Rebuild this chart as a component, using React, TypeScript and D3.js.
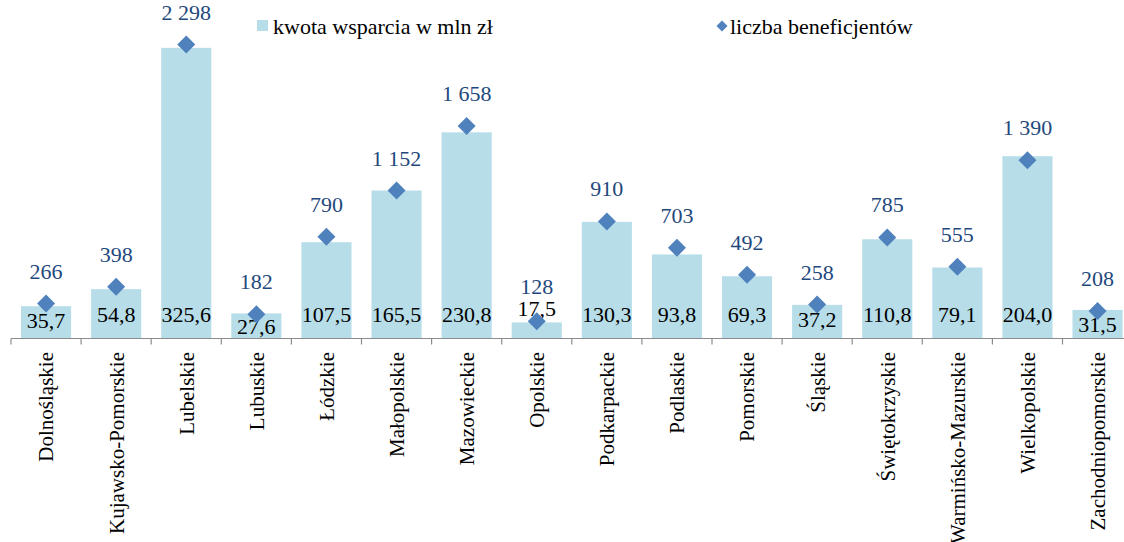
import { useEffect, useRef } from 'react'
import * as d3 from 'd3'

const regions = [
  'Dolnośląskie', 'Kujawsko-Pomorskie', 'Lubelskie', 'Lubuskie', 'Łódzkie',
  'Małopolskie', 'Mazowieckie', 'Opolskie', 'Podkarpackie', 'Podlaskie',
  'Pomorskie', 'Śląskie', 'Świętokrzyskie', 'Warmińsko-Mazurskie',
  'Wielkopolskie', 'Zachodniopomorskie',
]
const amounts = [35.7, 54.8, 325.6, 27.6, 107.5, 165.5, 230.8, 17.5, 130.3, 93.8, 69.3, 37.2, 110.8, 79.1, 204.0, 31.5]
const beneficiaries = [266, 398, 2298, 182, 790, 1152, 1658, 128, 910, 703, 492, 258, 785, 555, 1390, 208]
const legendLabels = ['kwota wsparcia w mln zł', 'liczba beneficjentów']

const W = 1124
const H = 542
const BAR = '#b7dde8'
const DIAMOND = '#4f81bd'
const FONT = '"Liberation Serif", "Times New Roman", serif'

const pl = d3.formatLocale({ decimal: ',', thousands: ' ', grouping: [3], currency: ['', ''] })
const fmtAmount = pl.format(',.1f')
const fmtCount = pl.format(',d')

export default function App() {
  const svgRef = useRef<SVGSVGElement>(null)

  useEffect(() => {
    const el = svgRef.current
    if (!el) return
    const svg = d3.select(el)
    svg.selectAll('*').remove()

    const step = 70.1
    const x = d3.scaleBand<string>()
      .domain(regions)
      .range([11, 11 + step * regions.length])
      .paddingInner(0.285)
      .paddingOuter(0.1425)

    const yBar = d3.scaleLinear().domain([0, 350]).range([338, 26.1])
    const yDia = d3.scaleLinear().domain([0, 2500]).range([337.5, 18.75])
    const axisY = 338.5

    const rows = regions.map((r, i) => ({ r, a: amounts[i], b: beneficiaries[i] }))

    // bars
    svg.append('g').selectAll('rect')
      .data(rows)
      .join('rect')
      .attr('x', (d) => x(d.r)!)
      .attr('width', x.bandwidth())
      .attr('y', (d) => yBar(d.a))
      .attr('height', (d) => axisY - yBar(d.a))
      .attr('fill', BAR)

    // axis line + ticks
    const ax = svg.append('g')
    ax.append('line')
      .attr('x1', 11).attr('x2', 11 + step * regions.length)
      .attr('y1', axisY).attr('y2', axisY)
      .attr('stroke', '#8c8c8c').attr('stroke-width', 1.2)
    ax.selectAll('line.tick')
      .data(d3.range(regions.length + 1))
      .join('line')
      .attr('class', 'tick')
      .attr('x1', (i) => 11 + i * step).attr('x2', (i) => 11 + i * step)
      .attr('y1', axisY).attr('y2', axisY + 6)
      .attr('stroke', '#8c8c8c').attr('stroke-width', 1.2)

    // category labels
    svg.append('g').selectAll('text')
      .data(rows)
      .join('text')
      .attr('transform', (d) => `translate(${x(d.r)! + x.bandwidth() / 2},352) rotate(-90)`)
      .attr('text-anchor', 'end')
      .attr('dy', '0.35em')
      .attr('font-family', FONT)
      .attr('font-size', 21)
      .attr('fill', '#000')
      .text((d) => d.r)

    // bar value labels: inside base, pushed down / above for short bars
    const barLabelY = (v: number) => {
      const top = yBar(v)
      if (axisY - top < 20) return top - 6
      return Math.max(322, Math.min(top + 22, 334))
    }
    svg.append('g').selectAll('text')
      .data(rows)
      .join('text')
      .attr('x', (d) => x(d.r)! + x.bandwidth() / 2)
      .attr('y', (d) => barLabelY(d.a))
      .attr('text-anchor', 'middle')
      .attr('font-family', FONT)
      .attr('font-size', 22)
      .attr('fill', '#000')
      .text((d) => fmtAmount(d.a))

    // diamonds
    const dr = 9
    const diamond = `M0,${-dr}L${dr},0L0,${dr}L${-dr},0Z`
    svg.append('g').selectAll('path')
      .data(rows)
      .join('path')
      .attr('transform', (d) => `translate(${x(d.r)! + x.bandwidth() / 2},${yDia(d.b)})`)
      .attr('d', diamond)
      .attr('fill', DIAMOND)

    svg.append('g').selectAll('text')
      .data(rows)
      .join('text')
      .attr('x', (d) => x(d.r)! + x.bandwidth() / 2)
      .attr('y', (d) => Math.min(yDia(d.b) - 25, barLabelY(d.a) - 22))
      .attr('text-anchor', 'middle')
      .attr('font-family', FONT)
      .attr('font-size', 22)
      .attr('fill', '#1f497d')
      .text((d) => fmtCount(d.b))

    // legend
    const lg = svg.append('g').attr('font-family', FONT).attr('font-size', 22).attr('fill', '#000')
    lg.append('rect').attr('x', 257).attr('y', 20).attr('width', 11).attr('height', 11).attr('fill', BAR)
    lg.append('text').attr('x', 273).attr('y', 34).text(legendLabels[0])
    const ld = 5.5
    lg.append('path')
      .attr('transform', 'translate(722,26)')
      .attr('d', `M0,${-ld}L${ld},0L0,${ld}L${-ld},0Z`)
      .attr('fill', DIAMOND)
    lg.append('text').attr('x', 730).attr('y', 34).text(legendLabels[1])
  }, [])

  return (
    <svg
      ref={svgRef}
      width={W}
      height={H}
      style={{ position: 'absolute', left: 0, top: 0, background: '#fff' }}
    />
  )
}
